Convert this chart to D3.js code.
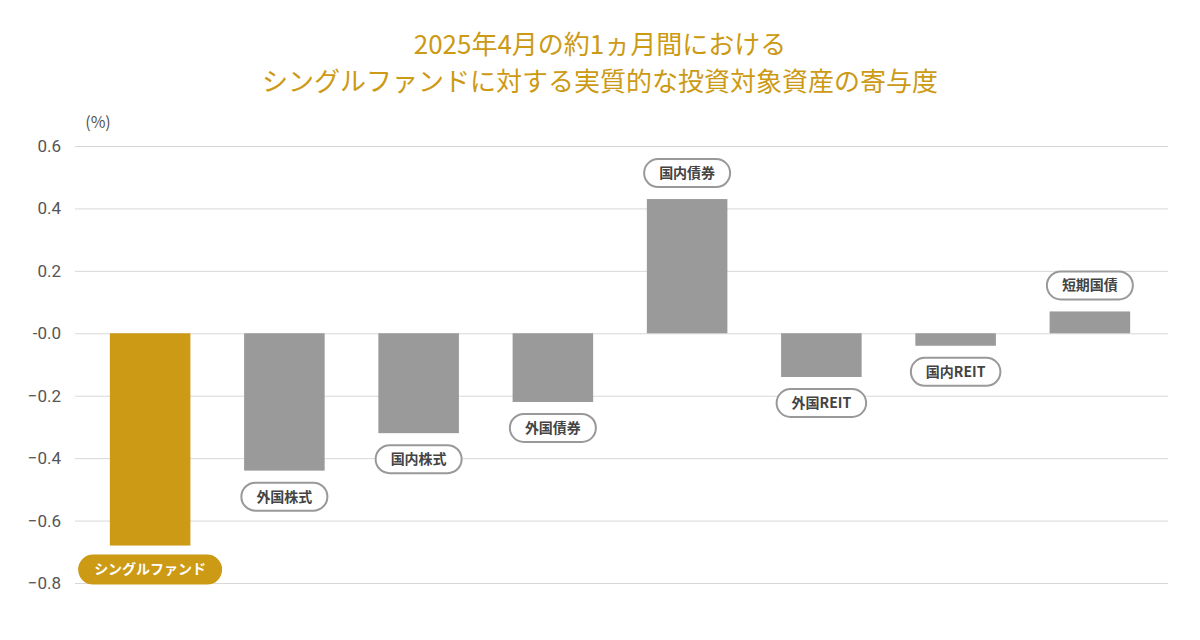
<!DOCTYPE html>
<html><head><meta charset="utf-8">
<script src="https://cdn.jsdelivr.net/npm/d3@7"></script>
<style>body{margin:0;background:#fff;font-family:"Noto Sans CJK JP","Noto Sans",sans-serif}</style>
</head><body><svg id="c" width="1200" height="640"></svg>
<script>
// data
const categories = ['シングルファンド', '外国株式', '国内株式', '外国債券', '国内債券', '外国REIT', '国内REIT', '短期国債'];
const values = [-0.68, -0.44, -0.32, -0.22, 0.43, -0.14, -0.04, 0.07];
const yTicks = [0.6, 0.4, 0.2, 0, -0.2, -0.4, -0.6, -0.8];
const titleLines = ['2025年4月の約1ヵ月間における', 'シングルファンドに対する実質的な投資対象資産の寄与度'];

const gold = '#cc9a14', gray = '#9a9a9a';
const svg = d3.select('#c');

svg.selectAll('text.title').data(titleLines).enter().append('text')
  .attr('x', 600).attr('y', (d, i) => 54 + i * 37)
  .attr('text-anchor', 'middle').attr('fill', gold)
  .style('font-size', '26px').text(d => d);

const y = d3.scaleLinear().domain([-0.8, 0.6]).range([583, 146]);
const x = d3.scaleBand().domain(categories).range([83, 1157]).paddingInner(0.4).paddingOuter(0.2);

// grid + tick labels
const yAxis = svg.append('g').attr('transform', 'translate(75,0)')
  .call(d3.axisLeft(y).tickValues(yTicks).tickSize(-1093)
    .tickFormat(d => d === 0 ? '-0.0' : d3.format('.1f')(d)));
yAxis.select('.domain').remove();
yAxis.selectAll('line').attr('stroke', '#d8d8d8');
yAxis.selectAll('text').attr('x', -14).attr('fill', '#555').style('font-size', '17px')
  .style('font-family', 'Roboto, sans-serif');

svg.append('text').attr('x', 98).attr('y', 128).attr('text-anchor', 'middle')
  .attr('fill', '#555').style('font-size', '16px').text('(%)');

svg.selectAll('rect.bar').data(values).enter().append('rect')
  .attr('x', (d, i) => x(categories[i])).attr('width', x.bandwidth())
  .attr('y', d => y(Math.max(0, d))).attr('height', d => Math.abs(y(d) - y(0)))
  .attr('fill', (d, i) => i === 0 ? gold : gray);

// pill labels
const labels = svg.selectAll('g.lab').data(values).enter().append('g')
  .attr('transform', (d, i) => `translate(${x(categories[i]) + x.bandwidth() / 2},${d < 0 ? y(d) + (i === 0 ? 24 : 26) : y(d) - 26})`);
labels.each(function (d, i) {
  const g = d3.select(this);
  const t = g.append('text').attr('text-anchor', 'middle').attr('dy', '0.35em')
    .style('font-size', '14px').style('font-weight', 'bold')
    .attr('fill', i === 0 ? '#fff' : '#444').text(categories[i]);
  const w = t.node().getComputedTextLength() + 30;
  g.insert('rect', 'text').attr('x', -w / 2).attr('y', -14).attr('width', w).attr('height', 28)
    .attr('rx', 14).attr('fill', i === 0 ? gold : '#fff')
    .attr('stroke', i === 0 ? gold : '#999').attr('stroke-width', 2);
});
</script></body></html>
